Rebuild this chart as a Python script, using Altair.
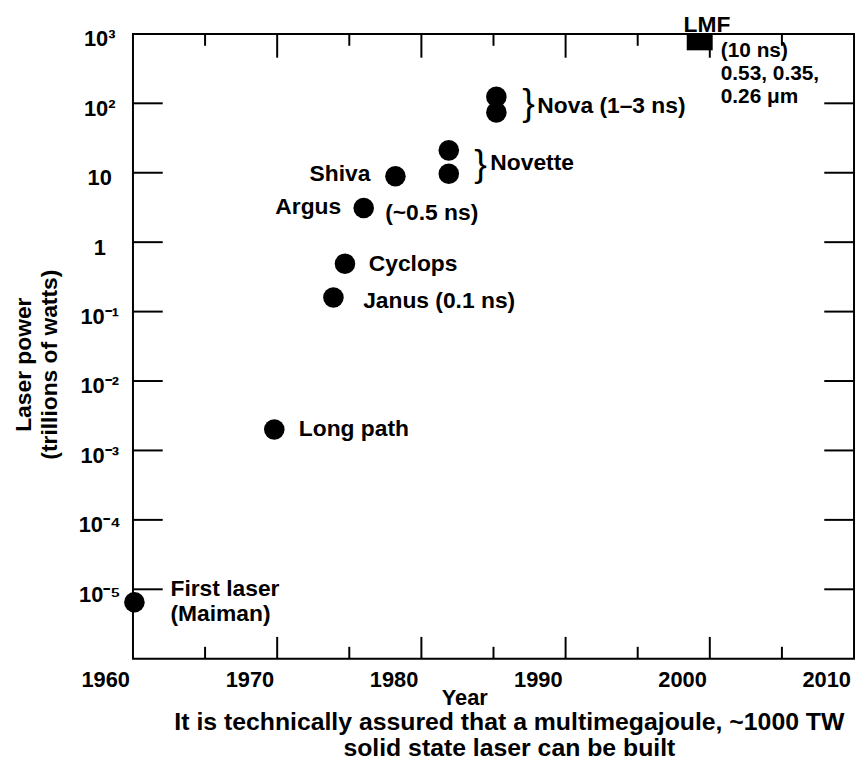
import altair as alt
import pandas as pd

FONT = "Liberation Sans, Arial, Helvetica, sans-serif"

# ---------------- data ----------------
point_names = ["First laser", "Long path", "Janus", "Cyclops", "Argus", "Shiva",
               "Novette", "Novette", "Nova", "Nova"]
point_years = [1960.1, 1969.8, 1973.9, 1974.7, 1976.0, 1978.2, 1981.9, 1981.9, 1985.2, 1985.2]
point_power = [6.5e-6, 2.0e-3, 0.16, 0.49, 3.1, 8.9, 21.0, 9.7, 124.0, 74.0]

lmf_year_start = [1998.4]
lmf_year_end = [2000.2]
lmf_power_low = [580.0]
lmf_power_high = [1000.0]

# left-aligned annotations (anchor in data space)
label_text = ["First laser", "(Maiman)", "Long path", "Janus (0.1 ns)", "Cyclops",
              "(~0.5 ns)", "Novette", "Nova (1\u20133 ns)"]
label_year = [1962.6, 1962.6, 1971.5, 1975.96, 1976.35, 1977.49, 1984.78, 1988.04]
label_power = [1.0e-5, 4.37e-6, 2.04e-3, 0.142, 0.485, 2.6, 13.9, 90.0]

# LMF details (one multi-line block, anchored at its first line)
lmf_note_text = ["(10 ns)\n0.53, 0.35,\n0.26 \u03bcm"]
lmf_note_year = [2000.76]
lmf_note_power = [566.0]

# right-aligned annotations
rlabel_text = ["Argus", "Shiva"]
rlabel_year = [1974.44, 1976.46]
rlabel_power = [3.24, 9.7]

# centred annotation
clabel_text = ["LMF"]
clabel_year = [1999.8]
clabel_power = [1352.0]

# braces
brace_text = ["}", "}"]
brace_year = [1983.66, 1987.0]
brace_power = [13.1, 97.5]

# axis ticks
x_label_years = [1960, 1970, 1980, 1990, 2000, 2010]
x_major_ticks = [1970, 1980, 1990, 2000]
x_minor_ticks = [1965, 1975, 1985, 1995, 2005]
y_tick_values = [1e3, 1e2, 1e1, 1e0, 1e-1, 1e-2, 1e-3, 1e-4, 1e-5]
y_tick_labels = ["10\u00b3", "10\u00b2", "10", "1", "10\u207b\u00b9", "10\u207b\u00b2",
                 "10\u207b\u00b3", "10\u207b\u2074", "10\u207b\u2075"]
y_inner_ticks = [1e2, 1e1, 1e0, 1e-1, 1e-2, 1e-3, 1e-4, 1e-5]

x_title = "Year"
y_title = ["Laser power", "(trillions of watts)"]
caption = ["It is technically assured that a multimegajoule, ~1000 TW",
           "solid state laser can be built"]

# ---------------- layout ----------------
W, H = 727, 630
xs = alt.Scale(domain=[1960, 2010], nice=False, zero=False)
ys = alt.Scale(type="log", domain=[1e-6, 1e3], nice=False)

label_expr = "[" + ",".join("'%s'" % s for s in y_tick_labels) + "][3 - round(log(datum.value)/LN10)]"

AX_X = alt.Axis(values=x_label_years, format="d", domain=False, ticks=False, grid=False,
                labelFont=FONT, labelFontSize=22, labelFontWeight="bold", labelColor="black",
                labelPadding=11, labelOffset=-28, labelFlush=False, labelOverlap=False,
                title=x_title, titleFont=FONT, titleFontSize=22, titleFontWeight="bold",
                titleColor="black", titleX=334, titleY=46, titleAlign="center",
                titleBaseline="alphabetic")
AX_Y = alt.Axis(values=y_tick_values, labelExpr=label_expr, domain=False, ticks=False,
                grid=False, labelFont=FONT, labelFontSize=22, labelFontWeight="bold",
                labelColor="black", labelAlign="center", labelBaseline="middle",
                labelPadding=34, labelOffset=5, labelOverlap=False, labelFlush=False,
                title=y_title, titleFont=FONT, titleFontSize=23, titleFontWeight="bold",
                titleColor="black", titleAngle=270, titleX=-110, titleY=333,
                titleAlign="center", titleBaseline="middle", titleLineHeight=26)


def xn():
    return alt.X("year:Q", scale=xs, axis=AX_X)


def yn():
    return alt.Y("power:Q", scale=ys, axis=AX_Y)


rule = dict(color="black", strokeWidth=2)

df_major = pd.DataFrame({"year": x_major_ticks})
df_minor = pd.DataFrame({"year": x_minor_ticks})
df_yt = pd.DataFrame({"power": y_inner_ticks})

points = alt.Chart(pd.DataFrame({"name": point_names, "year": point_years, "power": point_power})).mark_circle(
    size=430, color="black", opacity=1).encode(x=xn(), y=yn())

bottom_major = alt.Chart(df_major).mark_rule(**rule).encode(x=xn(), y=alt.value(H), y2=alt.value(H - 22))
bottom_minor = alt.Chart(df_minor).mark_rule(**rule).encode(x=xn(), y=alt.value(H), y2=alt.value(H - 12))
top_major = alt.Chart(df_major).mark_rule(**rule).encode(x=xn(), y=alt.value(0), y2=alt.value(24))
top_minor = alt.Chart(df_minor).mark_rule(**rule).encode(x=xn(), y=alt.value(0), y2=alt.value(12))
left_ticks = alt.Chart(df_yt).mark_rule(**rule).encode(y=yn(), x=alt.value(0), x2=alt.value(30))
right_ticks = alt.Chart(df_yt).mark_rule(**rule).encode(y=yn(), x=alt.value(W), x2=alt.value(W - 30))

lmf = alt.Chart(pd.DataFrame({"year": lmf_year_start, "year2": lmf_year_end,
                              "power": lmf_power_low, "power2": lmf_power_high})).mark_rect(
    color="black").encode(x=xn(), x2="year2:Q", y=yn(), y2="power2:Q")

txt = dict(font=FONT, fontWeight="bold", color="black", baseline="middle")

left_labels = alt.Chart(pd.DataFrame({"t": label_text, "year": label_year, "power": label_power})).mark_text(
    align="left", fontSize=23, **txt).encode(x=xn(), y=yn(), text="t:N")
lmf_note = alt.Chart(pd.DataFrame({"t": lmf_note_text, "year": lmf_note_year, "power": lmf_note_power})).mark_text(
    align="left", fontSize=21, lineBreak="\n", lineHeight=23, **txt).encode(x=xn(), y=yn(), text="t:N")
right_labels = alt.Chart(pd.DataFrame({"t": rlabel_text, "year": rlabel_year, "power": rlabel_power})).mark_text(
    align="right", fontSize=23, **txt).encode(x=xn(), y=yn(), text="t:N")
center_labels = alt.Chart(pd.DataFrame({"t": clabel_text, "year": clabel_year, "power": clabel_power})).mark_text(
    align="center", fontSize=23, **txt).encode(x=xn(), y=yn(), text="t:N")
braces = alt.Chart(pd.DataFrame({"t": brace_text, "year": brace_year, "power": brace_power})).mark_text(
    align="left", baseline="middle", font=FONT, fontSize=38, fontWeight="normal", color="black").encode(
    x=xn(), y=yn(), text="t:N")

chart = alt.layer(
    points, bottom_major, bottom_minor, top_major, top_minor, left_ticks, right_ticks,
    lmf, left_labels, lmf_note, right_labels, center_labels, braces
).properties(
    width=W, height=H,
    autosize=alt.AutoSizeParams(type="none"),
    padding={"left": 126, "top": 23, "right": 2, "bottom": 99},
    title=alt.TitleParams(text=caption, orient="bottom", anchor="middle", frame="group",
                          font=FONT, fontSize=25, fontWeight="bold", color="black",
                          lineHeight=26, offset=2, dx=16),
).configure_view(stroke="black", strokeWidth=2)

chart.save("out.html", embed_options={"renderer": "svg", "actions": False})
